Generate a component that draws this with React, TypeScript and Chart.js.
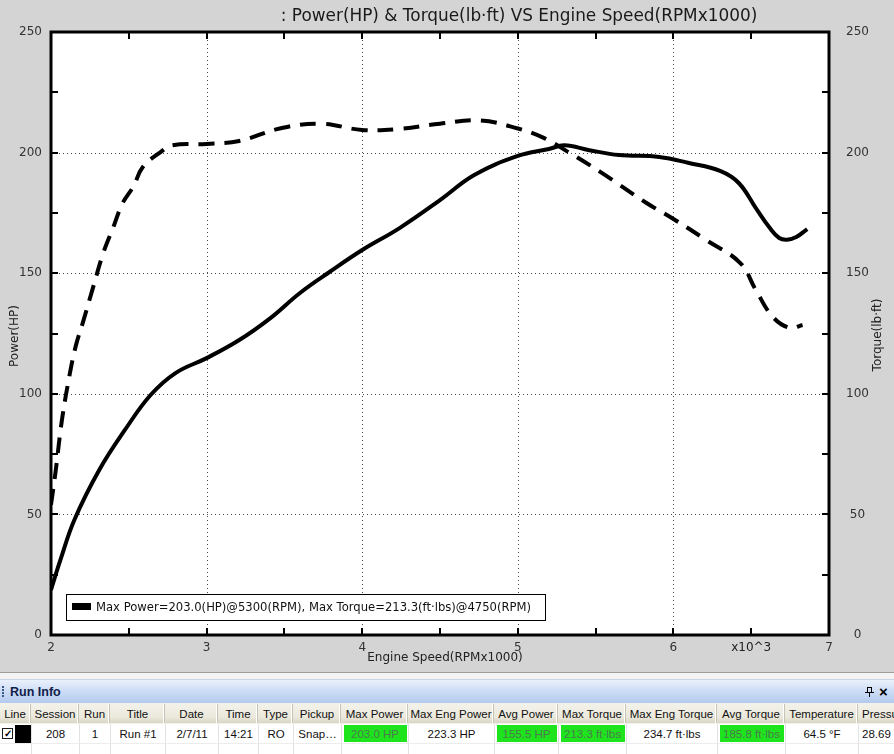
import React, { useEffect, useRef } from "react";
import { Chart, registerables } from "chart.js";
Chart.register(...registerables);

// ---- data ----
const powerRpm = [2.0, 2.06, 2.15, 2.31, 2.475, 2.64, 2.8, 3.0, 3.21, 3.41, 3.6, 3.79, 4.0, 4.24, 4.5, 4.72, 5.0, 5.2, 5.3, 5.46, 5.65, 5.91, 6.1, 6.3, 6.42, 6.53, 6.62, 6.68, 6.73, 6.79, 6.86];
const powerHp = [18.7, 31, 47.7, 68.4, 85, 99.5, 108.6, 114.8, 122.3, 131.4, 141.8, 150.5, 159.6, 168.7, 180.3, 190.7, 198.6, 201.5, 203.0, 201, 199, 198.2, 195.7, 192.4, 187.4, 177, 168.7, 164.6, 163.9, 165, 168.3];
const torqueRpm = [2.0, 2.03, 2.07, 2.12, 2.16, 2.206, 2.27, 2.334, 2.4, 2.46, 2.53, 2.59, 2.7, 2.78, 3.0, 3.21, 3.47, 3.73, 4.0, 4.24, 4.5, 4.76, 5.0, 5.17, 5.33, 5.53, 5.83, 5.99, 6.21, 6.43, 6.53, 6.64, 6.75, 6.83];
const torqueLbft = [54, 68, 89, 108, 120, 129.8, 144, 158, 169, 179, 186, 194, 200, 203, 203.6, 204.8, 210, 212, 209.4, 209.8, 212, 213.3, 210, 206, 200, 192, 179, 172.9, 163.8, 154.2, 143, 131.8, 127.3, 128.5];

const xMin = 2;
const xMax = 7;
const yMin = 0;
const yMax = 250;
const xMajor = [3, 4, 5, 6];
const yMajor = [50, 100, 150, 200];

const chartTitle = ": Power(HP) & Torque(lb·ft) VS Engine Speed(RPMx1000)";
const xTitle = "Engine Speed(RPMx1000)";
const yTitle = "Power(HP)";
const y1Title = "Torque(lb·ft)";
const xMultiplier = "x10^3";
const legendText = "Max Power=203.0(HP)@5300(RPM), Max Torque=213.3(ft·lbs)@4750(RPM)";

const tableHeaders = ["Line", "Session", "Run", "Title", "Date", "Time", "Type", "Pickup", "Max Power", "Max Eng Power", "Avg Power", "Max Torque", "Max Eng Torque", "Avg Torque", "Temperature", "Pressu"];
const tableRow = ["", "208", "1", "Run #1", "2/7/11", "14:21", "RO", "Snap…", "203.0 HP", "223.3 HP", "155.5 HP", "213.3 ft·lbs", "234.7 ft·lbs", "185.8 ft·lbs", "64.5 °F", "28.69"];
const greenCols = [8, 10, 11, 13];
const colEdges = [0, 32, 80, 111, 166, 219, 259, 294, 342, 409, 495, 559, 627, 718, 786, 859, 960];

const FONT = '"DejaVu Sans", Verdana, sans-serif';

const decor = {
  id: "decor",
  beforeDraw(chart: any) {
    const { ctx, chartArea: a } = chart;
    const xs = chart.scales.x;
    const ys = chart.scales.y;
    ctx.save();
    ctx.fillStyle = "#d4d4d4";
    ctx.fillRect(0, 0, chart.width, chart.height);
    ctx.fillStyle = "#ffffff";
    ctx.fillRect(a.left, a.top, a.right - a.left, a.bottom - a.top);
    ctx.strokeStyle = "#4a4a4a";
    ctx.lineWidth = 1;
    ctx.setLineDash([1, 3]);
    for (const v of xMajor) {
      const px = Math.round(xs.getPixelForValue(v)) + 0.5;
      ctx.beginPath();
      ctx.moveTo(px, a.top);
      ctx.lineTo(px, a.bottom);
      ctx.stroke();
    }
    for (const v of yMajor) {
      const py = Math.round(ys.getPixelForValue(v)) + 0.5;
      ctx.beginPath();
      ctx.moveTo(a.left, py);
      ctx.lineTo(a.right, py);
      ctx.stroke();
    }
    ctx.restore();
  },
  afterDatasetsDraw(chart: any) {
    const { ctx, chartArea: a } = chart;
    const xs = chart.scales.x;
    const ys = chart.scales.y;
    ctx.save();
    ctx.strokeStyle = "#000";
    ctx.lineWidth = 2;
    const tl = 7;
    for (let v = xMin + 0.5; v < xMax; v += 0.5) {
      const px = Math.round(xs.getPixelForValue(v));
      ctx.beginPath();
      ctx.moveTo(px, a.bottom);
      ctx.lineTo(px, a.bottom - tl);
      ctx.moveTo(px, a.top);
      ctx.lineTo(px, a.top + tl);
      ctx.stroke();
    }
    for (let v = yMin + 25; v < yMax; v += 25) {
      const py = Math.round(ys.getPixelForValue(v));
      ctx.beginPath();
      ctx.moveTo(a.left, py);
      ctx.lineTo(a.left + tl, py);
      ctx.moveTo(a.right, py);
      ctx.lineTo(a.right - tl, py);
      ctx.stroke();
    }
    ctx.lineWidth = 3;
    ctx.strokeRect(a.left, a.top, a.right - a.left, a.bottom - a.top);

    // legend box
    const lx = a.left + 15;
    const ly = a.bottom - 41;
    ctx.fillStyle = "#fff";
    ctx.fillRect(lx, ly, 479, 26);
    ctx.lineWidth = 1;
    ctx.strokeRect(lx + 0.5, ly + 0.5, 479, 26);
    ctx.fillStyle = "#000";
    ctx.fillRect(lx + 6, ly + 9, 19, 7);
    ctx.font = `11.6px ${FONT}`;
    ctx.fillStyle = "#111";
    ctx.textBaseline = "middle";
    ctx.textAlign = "left";
    ctx.fillText(legendText, lx + 30, ly + 13.5);

    // titles
    ctx.fillStyle = "#1a1a1a";
    ctx.font = `16.9px ${FONT}`;
    ctx.textAlign = "center";
    ctx.fillText(chartTitle, 519, 17);
    ctx.font = `12px ${FONT}`;
    ctx.fillStyle = "#222";
    ctx.fillText(xTitle, 445, 658);
    ctx.fillText(xMultiplier, xs.getPixelForValue(6.5), 648);
    ctx.save();
    ctx.translate(15, 336);
    ctx.rotate(-Math.PI / 2);
    ctx.fillText(yTitle, 0, 0);
    ctx.restore();
    ctx.save();
    ctx.translate(878, 335);
    ctx.rotate(-Math.PI / 2);
    ctx.fillText(y1Title, 0, 0);
    ctx.restore();
    ctx.restore();
  },
};

function ChartCanvas() {
  const ref = useRef<HTMLCanvasElement | null>(null);
  useEffect(() => {
    if (!ref.current) return;
    const chart = new Chart(ref.current, {
      type: "line",
      data: {
        datasets: [
          {
            label: "Power",
            data: powerRpm.map((x, i) => ({ x, y: powerHp[i] })),
            borderColor: "#000",
            borderWidth: 4,
            pointRadius: 0,
            fill: false,
            tension: 0.4,
            yAxisID: "y",
          },
          {
            label: "Torque",
            data: torqueRpm.map((x, i) => ({ x, y: torqueLbft[i] })),
            borderColor: "#000",
            borderWidth: 4,
            borderDash: [16, 10],
            pointRadius: 0,
            fill: false,
            tension: 0.4,
            yAxisID: "y1",
          },
        ],
      },
      options: {
        responsive: false,
        animation: false,
        layout: { padding: { top: 32, left: 0, right: 0, bottom: 0 } },
        plugins: { legend: { display: false }, title: { display: false }, tooltip: { enabled: false } },
        scales: {
          x: {
            type: "linear",
            min: xMin,
            max: xMax,
            grid: { display: false, drawTicks: false },
            border: { display: false },
            ticks: {
              stepSize: 1,
              autoSkip: false,
              maxRotation: 0,
              padding: 6,
              color: "#333",
              font: { family: FONT, size: 12 },
              callback: (v: any) => String(v),
            },
            afterFit: (s: any) => { s.height = 37; },
          },
          y: {
            position: "left",
            min: yMin,
            max: yMax,
            grid: { display: false, drawTicks: false },
            border: { display: false },
            ticks: { stepSize: 50, padding: 9, color: "#333", font: { family: FONT, size: 12 } },
            afterFit: (s: any) => { s.width = 51; },
          },
          y1: {
            position: "right",
            min: yMin,
            max: yMax,
            grid: { display: false, drawTicks: false },
            border: { display: false },
            ticks: { stepSize: 50, padding: 17, crossAlign: "center", color: "#333", font: { family: FONT, size: 12 } },
            afterFit: (s: any) => { s.width = 65; },
          },
        },
      },
      plugins: [decor],
    } as any);
    return () => chart.destroy();
  }, []);
  return <canvas ref={ref} width={894} height={672} style={{ display: "block", width: 894, height: 672 }} />;
}

const TFONT = '"Liberation Sans", Arial, sans-serif';

function RunInfo() {
  const cells = [];
  for (let i = 0; i < tableHeaders.length; i++) {
    const l = colEdges[i];
    const w = colEdges[i + 1] - l;
    const last = i === tableHeaders.length - 1;
    cells.push(
      <div key={"h" + i} style={{
        position: "absolute", left: l, top: 0, width: w - 1, height: 19,
        borderRight: "1px solid #c7c4b4", boxShadow: "inset -1px 0 0 #ffffff",
        lineHeight: "20px", fontSize: 11.5, textAlign: last ? "left" : "center",
        paddingLeft: last ? 3 : 0, boxSizing: "border-box", color: "#111", whiteSpace: "nowrap", overflow: "hidden",
      }}>{tableHeaders[i]}</div>
    );
    const green = greenCols.includes(i);
    cells.push(
      <div key={"d" + i} style={{
        position: "absolute", left: l, top: 20, width: w, height: 20,
        borderRight: "1px solid #e2e2e2", borderBottom: "1px solid #ececec", boxSizing: "border-box",
        background: "#fff",
      }}>
        {green ? <div style={{ position: "absolute", left: 2, top: 1, right: 1, bottom: 1, background: "#1ee41e" }} /> : null}
        <div style={{
          position: "absolute", left: last ? 3 : 0, right: 0, top: 0, lineHeight: "20px", fontSize: 11.5,
          textAlign: last ? "left" : "center", color: green ? "#4d7a4d" : "#111", whiteSpace: "nowrap",
        }}>{tableRow[i]}</div>
      </div>
    );
    cells.push(
      <div key={"e" + i} style={{
        position: "absolute", left: l, top: 40, width: w, height: 14,
        borderRight: "1px solid #e2e2e2", boxSizing: "border-box", background: "#fff",
      }} />
    );
  }
  return (
    <div style={{ position: "absolute", left: 0, top: 672, width: 894, height: 82, background: "#f2f1ea", fontFamily: TFONT, overflow: "hidden" }}>
      <div style={{ position: "absolute", left: 0, top: 0, width: 894, height: 1, background: "#9c9c9c" }} />
      <div style={{ position: "absolute", left: 0, top: 1, width: 894, height: 5, background: "#f4f4f4" }} />
      <div style={{
        position: "absolute", left: 0, top: 7, width: 894, height: 24,
        background: "linear-gradient(to bottom, #eaf1fc 0%, #cfdef6 45%, #b3caee 100%)",
        borderTop: "1px solid #c8d6ee", boxSizing: "border-box",
      }}>
        {[0, 1, 2, 3].map((k) => (
          <div key={k} style={{ position: "absolute", left: 2, top: 6 + k * 3, width: 2, height: 2, background: "#3b5a8a" }} />
        ))}
        <div style={{ position: "absolute", left: 10, top: 1, lineHeight: "22px", fontSize: 12.5, fontWeight: "bold", color: "#10204a" }}>Run Info</div>
        <div style={{ position: "absolute", left: 867, top: 7, width: 5, height: 6, border: "1px solid #000", boxSizing: "border-box" }} />
        <div style={{ position: "absolute", left: 865, top: 12, width: 9, height: 1, background: "#000" }} />
        <div style={{ position: "absolute", left: 869, top: 13, width: 1, height: 4, background: "#000" }} />
        <div style={{ position: "absolute", left: 879, top: 1, lineHeight: "22px", fontSize: 15, fontWeight: "bold", color: "#000" }}>×</div>
      </div>
      <div style={{ position: "absolute", left: 0, top: 32, width: 894, height: 52 }}>
        <div style={{ position: "absolute", left: 0, top: 0, width: 894, height: 19, background: "linear-gradient(to bottom, #f3f2ea 0%, #ebe9dc 70%, #d8d5c5 100%)" }} />
        {cells}
        <div style={{ position: "absolute", left: 2, top: 24, width: 11, height: 11, border: "1px solid #1c1c1c", background: "#fff", boxSizing: "border-box", fontSize: 10, lineHeight: "9px", textAlign: "center", fontWeight: "bold" }}>✓</div>
        <div style={{ position: "absolute", left: 15, top: 21, width: 16, height: 18, background: "#000" }} />
      </div>
    </div>
  );
}

export default function App() {
  return (
    <div style={{ position: "fixed", left: 0, top: 0, width: 894, height: 754, overflow: "hidden", background: "#d4d4d4" }}>
      <ChartCanvas />
      <RunInfo />
    </div>
  );
}
